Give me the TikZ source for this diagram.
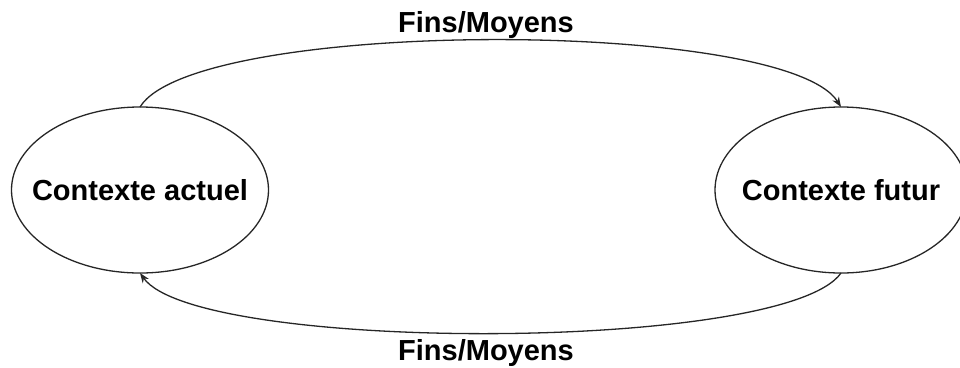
\documentclass[tikz,border=0pt]{standalone}
\usepackage{fontspec}
\setmainfont{Liberation Sans}
\usetikzlibrary{shapes.geometric,arrows.meta}
\begin{document}
\begin{tikzpicture}[x=1pt,y=1pt,
  ctx/.style={ellipse,draw=black!85,line width=1.3pt,inner sep=0pt,outer sep=0pt,
    font=\fontsize{29}{34}\selectfont\bfseries},
  lbl/.style={anchor=base,inner sep=0pt,font=\fontsize{29}{34}\selectfont\bfseries},
  arr/.style={draw=black!85,line width=1.3pt,-{Stealth[length=10pt,width=7.5pt]}}]
\useasboundingbox (0,0) rectangle (960,-367);
\node[ctx,minimum width=257pt,minimum height=166pt] (L) at (140,-190) {\makebox[0pt]{Contexte actuel}};
\node[ctx,minimum width=252pt,minimum height=166pt] (R) at (841,-190) {\makebox[0pt]{Contexte futur}};
\node[lbl] (T) at (486,-32) {Fins/Moyens};
\node[lbl] (B) at (486,-360) {Fins/Moyens};
\draw[arr] (L.north) .. controls (195,-18) and (785,-18) .. (R.north);
\draw[arr] (R.south) .. controls (785,-353) and (197,-353) .. (L.south);
\end{tikzpicture}
\end{document}
